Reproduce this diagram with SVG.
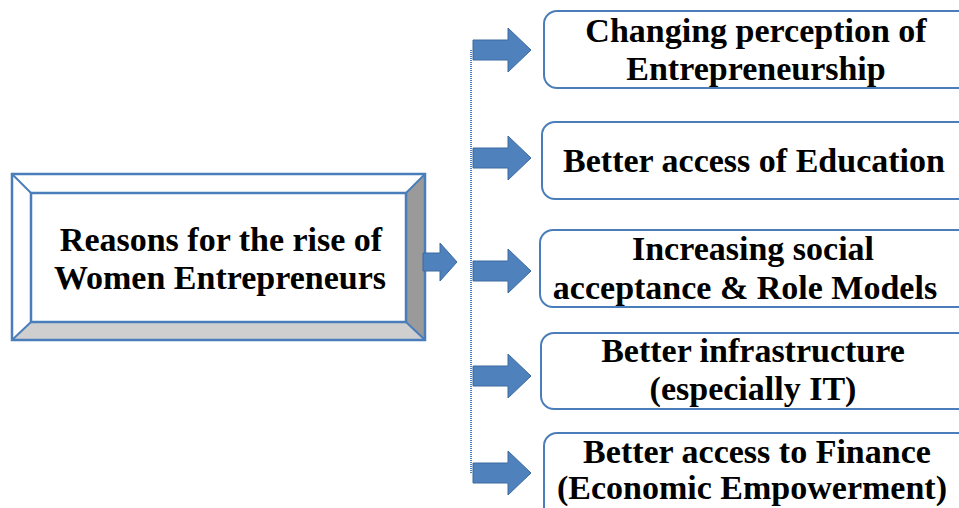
<svg xmlns="http://www.w3.org/2000/svg" width="959" height="508" viewBox="0 0 959 508">
<style>
.t{font-family:'Liberation Serif','DejaVu Serif',serif;font-weight:700;font-size:34px;fill:#000;text-anchor:middle}
.box{fill:#fff;stroke:#4a7ebb;stroke-width:2}
.arr{fill:#4f81bd;stroke:#3d6aa0;stroke-width:1}
</style>
<defs>
<path id="ar" d="M0,-10 H35 V-22 L58,0 L35,22 V10 H0 Z"/>
</defs>
<rect width="959" height="508" fill="#fff"/>
<g id="main">
<polygon points="12,174 425,174 406,193 31,193" fill="#fff"/>
<polygon points="12,174 31,193 31,322 12,340" fill="#fff"/>
<polygon points="425,174 425,340 406,322 406,193" fill="#9a9a9a"/>
<polygon points="12,340 31,322 406,322 425,340" fill="#cfcfcf"/>
<rect x="12" y="174" width="413" height="166" fill="none" stroke="#4a7ebb" stroke-width="2.5"/>
<rect x="31" y="193" width="375" height="129" fill="none" stroke="#4a7ebb" stroke-width="2.5"/>
<line x1="12" y1="174" x2="31" y2="193" stroke="#4a7ebb" stroke-width="2"/>
<line x1="425" y1="174" x2="406" y2="193" stroke="#4a7ebb" stroke-width="2"/>
<line x1="12" y1="340" x2="31" y2="322" stroke="#4a7ebb" stroke-width="2"/>
<line x1="425" y1="340" x2="406" y2="322" stroke="#4a7ebb" stroke-width="2"/>
<text class="t" x="221" y="251">Reasons for the rise of</text>
<text class="t" x="220" y="289">Women Entrepreneurs</text>
</g>
<g id="connectors">
<path d="M423,253 H440 V243 L457,262 L440,281 V271 H423 Z" class="arr"/>
<line x1="471" y1="50" x2="471" y2="474" stroke="#4a7ebb" stroke-width="2" stroke-dasharray="1 1"/>
<use href="#ar" x="473" y="50" class="arr"/>
<use href="#ar" x="473" y="158" class="arr"/>
<use href="#ar" x="473" y="271" class="arr"/>
<use href="#ar" x="473" y="376" class="arr"/>
<use href="#ar" x="473" y="473" class="arr"/>
</g>
<g id="n1"><rect class="box" x="544" y="11" width="430" height="77" rx="13"/>
<text class="t" x="756" y="42">Changing perception of</text>
<text class="t" x="756" y="80">Entrepreneurship</text></g>
<g id="n2"><rect class="box" x="542" y="122" width="432" height="77" rx="13"/>
<text class="t" x="754" y="172">Better access of Education</text></g>
<g id="n3"><rect class="box" x="540" y="230" width="434" height="77" rx="13"/>
<text class="t" x="753" y="260">Increasing social</text>
<text class="t" x="745" y="299">acceptance &amp; Role Models</text></g>
<g id="n4"><rect class="box" x="541" y="333" width="433" height="76" rx="13"/>
<text class="t" x="753" y="362">Better infrastructure</text>
<text class="t" x="753" y="400">(especially IT)</text></g>
<g id="n5"><rect class="box" x="544" y="433" width="430" height="90" rx="13"/>
<text class="t" x="757" y="463">Better access to Finance</text>
<text class="t" x="752" y="499">(Economic Empowerment)</text></g>
</svg>
